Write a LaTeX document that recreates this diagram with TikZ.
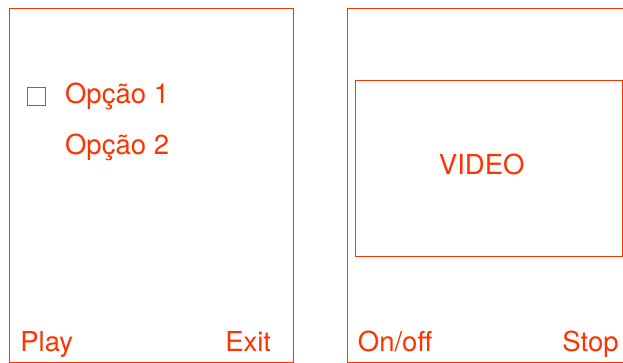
\documentclass[tikz,border=0pt]{standalone}
\usepackage{fontspec}
\setmainfont{TeX Gyre Heros}
\usepackage{xcolor}
\definecolor{mockred}{RGB}{255,51,0}

\begin{document}
\begin{tikzpicture}[x=1pt, y=-1pt, mockred, line width=0.8pt,
  txt/.style={inner sep=0pt, text=mockred, font=\fontsize{27.5}{31}\selectfont},
  checkbox/.style={draw, minimum size=18pt, inner sep=0pt, line width=0.6pt}]
\clip (0,0) rectangle (623,363);
\useasboundingbox (0,0) rectangle (623,363);
% menu screen
\draw (9.5,8.5) rectangle (293,362);
\node [checkbox] (box1) at (36.2,96.8) {};
\node [txt, anchor=base west] (opt1) at (64.7,103.5) {Opção 1};
\node [txt, anchor=base west] (opt2) at (64.7,154.3) {Opção 2};
\node [txt, anchor=base west] (play) at (20,351.7) {Play};
\node [txt, anchor=base east] (exit) at (271.5,351.7) {Exit};
% video screen
\draw (347,8.5) rectangle (630,362);
\draw (355.3,80) rectangle (622.3,256.7);
\node [txt, anchor=base] (video) at (481.7,174.3) {VIDEO};
\node [txt, anchor=base west] (onoff) at (357.5,351.7) {On/off};
\node [txt, anchor=base east] (stop) at (619,351.7) {Stop};
\end{tikzpicture}
\end{document}
